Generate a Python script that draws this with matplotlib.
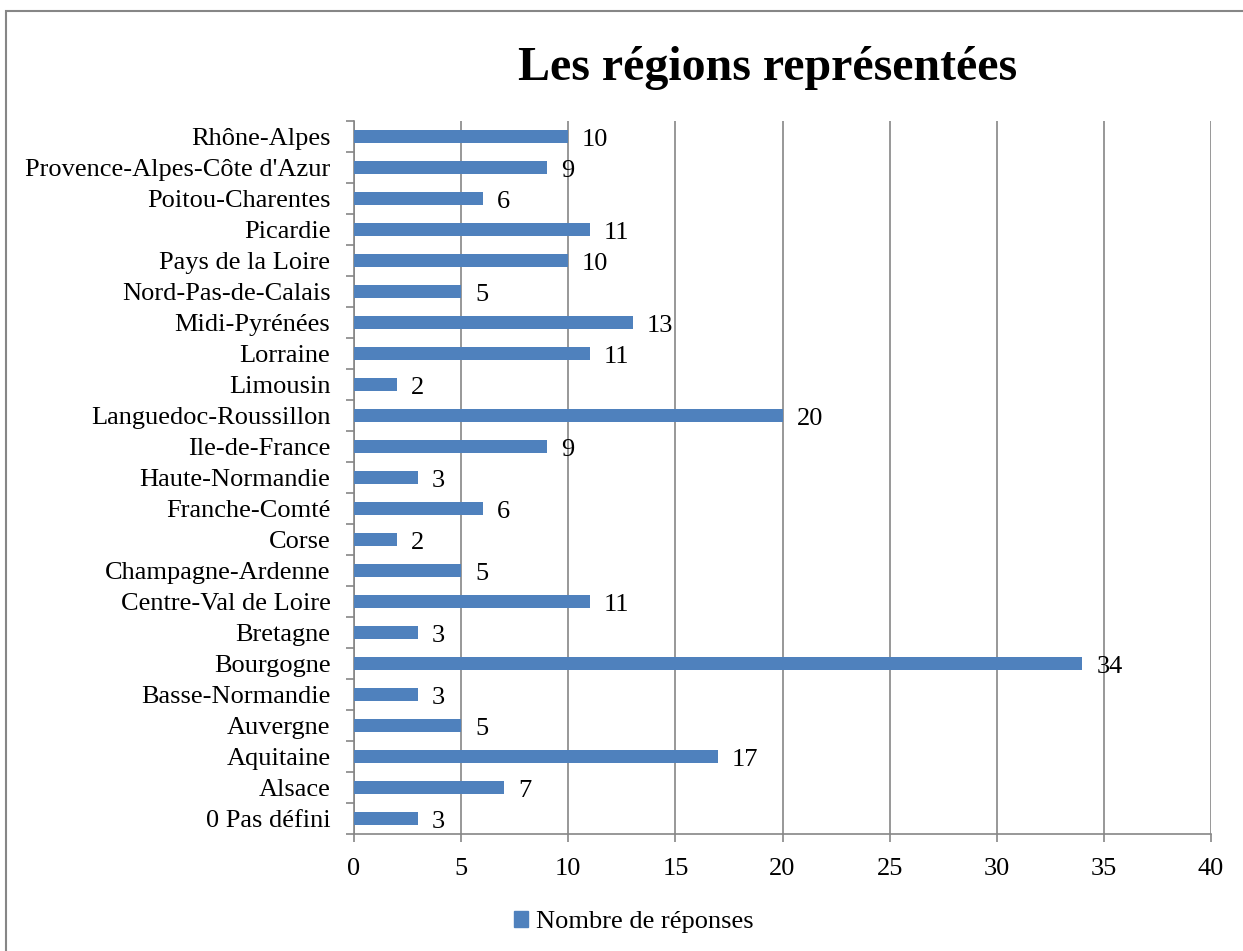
import numpy as np
import matplotlib
matplotlib.use("Agg")
import matplotlib.pyplot as plt
from matplotlib.patches import Rectangle, Patch

plt.rcParams['font.family'] = ['Liberation Serif', 'DejaVu Serif']

regions = ["0 Pas défini", "Alsace", "Aquitaine", "Auvergne", "Basse-Normandie",
           "Bourgogne", "Bretagne", "Centre-Val de Loire", "Champagne-Ardenne",
           "Corse", "Franche-Comté", "Haute-Normandie", "Ile-de-France",
           "Languedoc-Roussillon", "Limousin", "Lorraine", "Midi-Pyrénées",
           "Nord-Pas-de-Calais", "Pays de la Loire", "Picardie",
           "Poitou-Charentes", "Provence-Alpes-Côte d'Azur", "Rhône-Alpes"]
reponses = [3, 7, 17, 5, 3, 34, 3, 11, 5, 2, 6, 3, 9, 20, 2, 11, 13, 5, 10, 11, 6, 9, 10]
xticks = [0, 5, 10, 15, 20, 25, 30, 35, 40]

bleu = '#4F81BD'
gris = '#868686'
fs = 19

fig = plt.figure(figsize=(12.43, 9.51), dpi=100)
ax = fig.add_axes([354 / 1243, 1 - 834 / 951, (1211 - 354) / 1243, (834 - 121) / 951])

pos = np.arange(len(regions))
bars = ax.barh(pos, reponses, height=0.42, color=bleu, zorder=3)

# étiquettes de valeurs à droite des barres
for b, v in zip(bars, reponses):
    ax.annotate(str(v), (b.get_width(), b.get_y() + b.get_height() / 2),
                xytext=(10, -1), textcoords='offset points',
                va='center_baseline', ha='left', fontsize=fs, zorder=4)

ax.set_xlim(0, 40)
ax.set_ylim(-0.5, len(regions) - 0.5)
ax.set_xticks(xticks)
ax.set_yticks(pos)
ax.set_yticklabels(regions)
ax.set_yticks(np.arange(-0.5, len(regions), 1), minor=True)

ax.tick_params(axis='y', which='major', length=0, labelsize=fs, pad=17)
ax.tick_params(axis='y', which='minor', length=6, width=1.2, color=gris)
ax.tick_params(axis='x', length=6, width=1.2, color=gris, labelsize=fs, pad=11)

ax.grid(axis='x', color=gris, linewidth=1.2, zorder=0)
for s in ['top', 'right']:
    ax.spines[s].set_visible(False)
for s in ['left', 'bottom']:
    ax.spines[s].set_color(gris)
    ax.spines[s].set_linewidth(1.2)

fig.text(768 / 1243, 1 - 68 / 951, "Les régions représentées", ha='center', va='center',
         fontsize=34.5, fontweight='bold')

fig.legend(handles=[Patch(color=bleu, label="Nombre de réponses")],
           loc='center', bbox_to_anchor=(634 / 1243, 1 - 922 / 951),
           frameon=False, fontsize=fs, handlelength=0.55, handleheight=0.55,
           handletextpad=0.3)

# cadre autour du graphique
fig.patches.append(Rectangle((6 / 1243, -0.1), 1.2, 1 - 11 / 951 + 0.1,
                             transform=fig.transFigure, fill=False,
                             edgecolor=gris, linewidth=1.5))

fig.savefig("out.png", dpi=100)
